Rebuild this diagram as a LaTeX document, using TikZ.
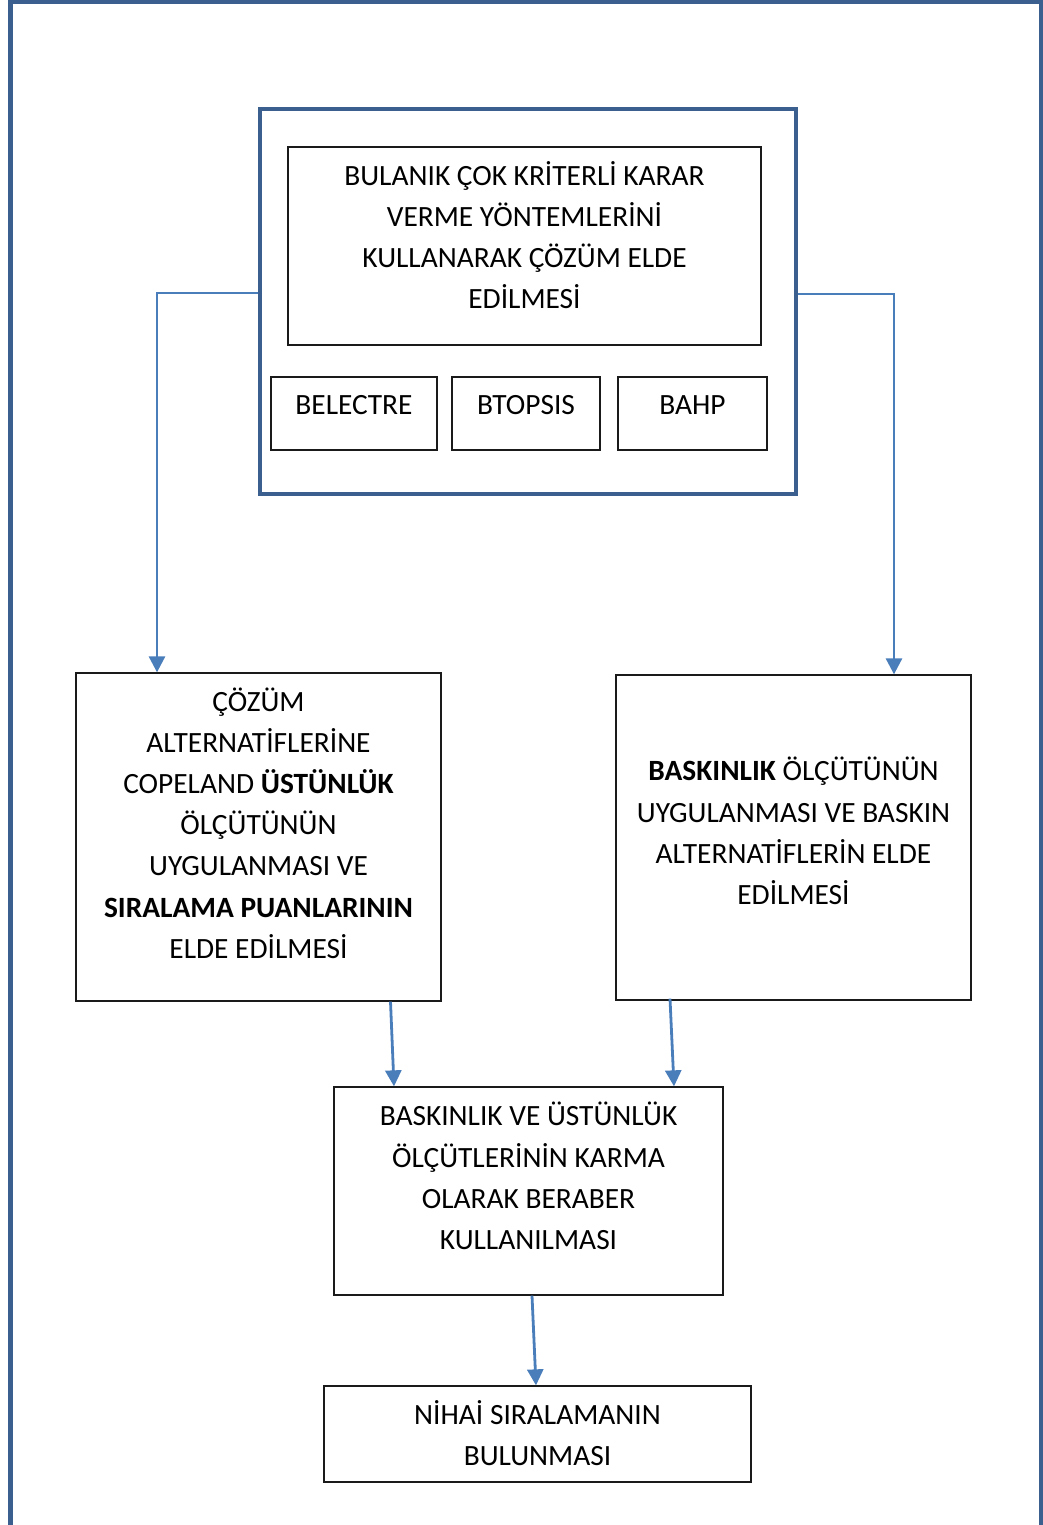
\documentclass[tikz,border=0pt]{standalone}
\usepackage{fontspec}
\setmainfont{Carlito}
\usepackage{tikz}
\usetikzlibrary{arrows.meta, calc, positioning}
\definecolor{FrameBlue}{HTML}{3B6090}
\definecolor{ArrowBlue}{HTML}{4A7EBB}
\definecolor{BoxLine}{HTML}{1A1A1A}

\begin{document}
\begin{tikzpicture}[x=0.5pt, y=-0.5pt,
	box/.style={draw=BoxLine, line width=0.65pt, inner sep=0pt},
	txt/.style={align=center, inner sep=0pt, font=\fontsize{14.7}{20.6}\selectfont},
	arr/.style={ArrowBlue, line width=1.4pt, -{Triangle[length=8pt, width=8pt]}}]

	\useasboundingbox (0,0) rectangle (1043,1525);

	% outer page frame
	\draw[FrameBlue, line width=2.5pt] (10,1525) -- (10,1.5) -- (1041,1.5) -- (1041,1525);

	% group of fuzzy methods
	\node[draw=FrameBlue, line width=2pt, minimum width=268pt, minimum height=192.5pt] (group) at (528,301.5) {};
	\node[box, minimum width=236.5pt, minimum height=99pt] (title) at (524.5,246) {};
	\node[txt] (titletxt) at (524.5,235) {BULANIK ÇOK KRİTERLİ KARAR\\VERME YÖNTEMLERİNİ\\KULLANARAK ÇÖZÜM ELDE\\EDİLMESİ};

	\node[box, minimum width=83pt, minimum height=36.5pt] (electre) at (354,413.5) {};
	\node[box, minimum width=74pt, minimum height=36.5pt] (topsis) at (526,413.5) {};
	\node[box, minimum width=74.5pt, minimum height=36.5pt] (ahp) at (692.5,413.5) {};
	\node[txt] (electretxt) at (354,405) {BELECTRE};
	\node[txt] (topsistxt) at (526,405) {BTOPSIS};
	\node[txt] (ahptxt) at (692.5,405) {BAHP};

	% two criteria
	\node[box, minimum width=182.5pt, minimum height=164pt] (left) at (258.5,837) {};
	\node[txt] (lefttxt) at (258.5,823) {ÇÖZÜM\\ALTERNATİFLERİNE\\COPELAND \textbf{ÜSTÜNLÜK}\\ÖLÇÜTÜNÜN\\UYGULANMASI VE\\\textbf{SIRALAMA PUANLARININ}\\ELDE EDİLMESİ};

	\node[box, minimum width=177.5pt, minimum height=162.5pt] (right) at (793.5,837.5) {};
	\node[txt] (righttxt) at (793.5,831) {\textbf{BASKINLIK} ÖLÇÜTÜNÜN\\UYGULANMASI VE BASKIN\\ALTERNATİFLERİN ELDE\\EDİLMESİ};

	% mixed use and final ranking
	\node[box, minimum width=194.5pt, minimum height=104pt] (mid) at (528.5,1191) {};
	\node[txt] (midtxt) at (528.5,1176) {BASKINLIK VE ÜSTÜNLÜK\\ÖLÇÜTLERİNİN KARMA\\OLARAK BERABER\\KULLANILMASI};

	\node[box, minimum width=213.5pt, minimum height=48pt] (final) at (537.5,1434) {};
	\node[txt] (finaltxt) at (537.5,1433) {NİHAİ SIRALAMANIN\\BULUNMASI};

	% connectors
	\coordinate (lbend) at (157,293);
	\coordinate (rbend) at (894,294);
	\draw[arr] (group.west |- lbend) -- (lbend) -- (lbend |- left.north);
	\draw[arr] (group.east |- rbend) -- (rbend) -- (rbend |- right.north);
	\draw[arr] ($(left.south)+(132,0)$) -- ($(mid.north)+(-134.5,0)$);
	\draw[arr] ($(right.south)+(-123.5,-2)$) -- ($(mid.north)+(145.5,0)$);
	\draw[arr] ($(mid.south)+(3.5,0)$) -- ($(final.north)+(-1.5,0)$);

\end{tikzpicture}
\end{document}
